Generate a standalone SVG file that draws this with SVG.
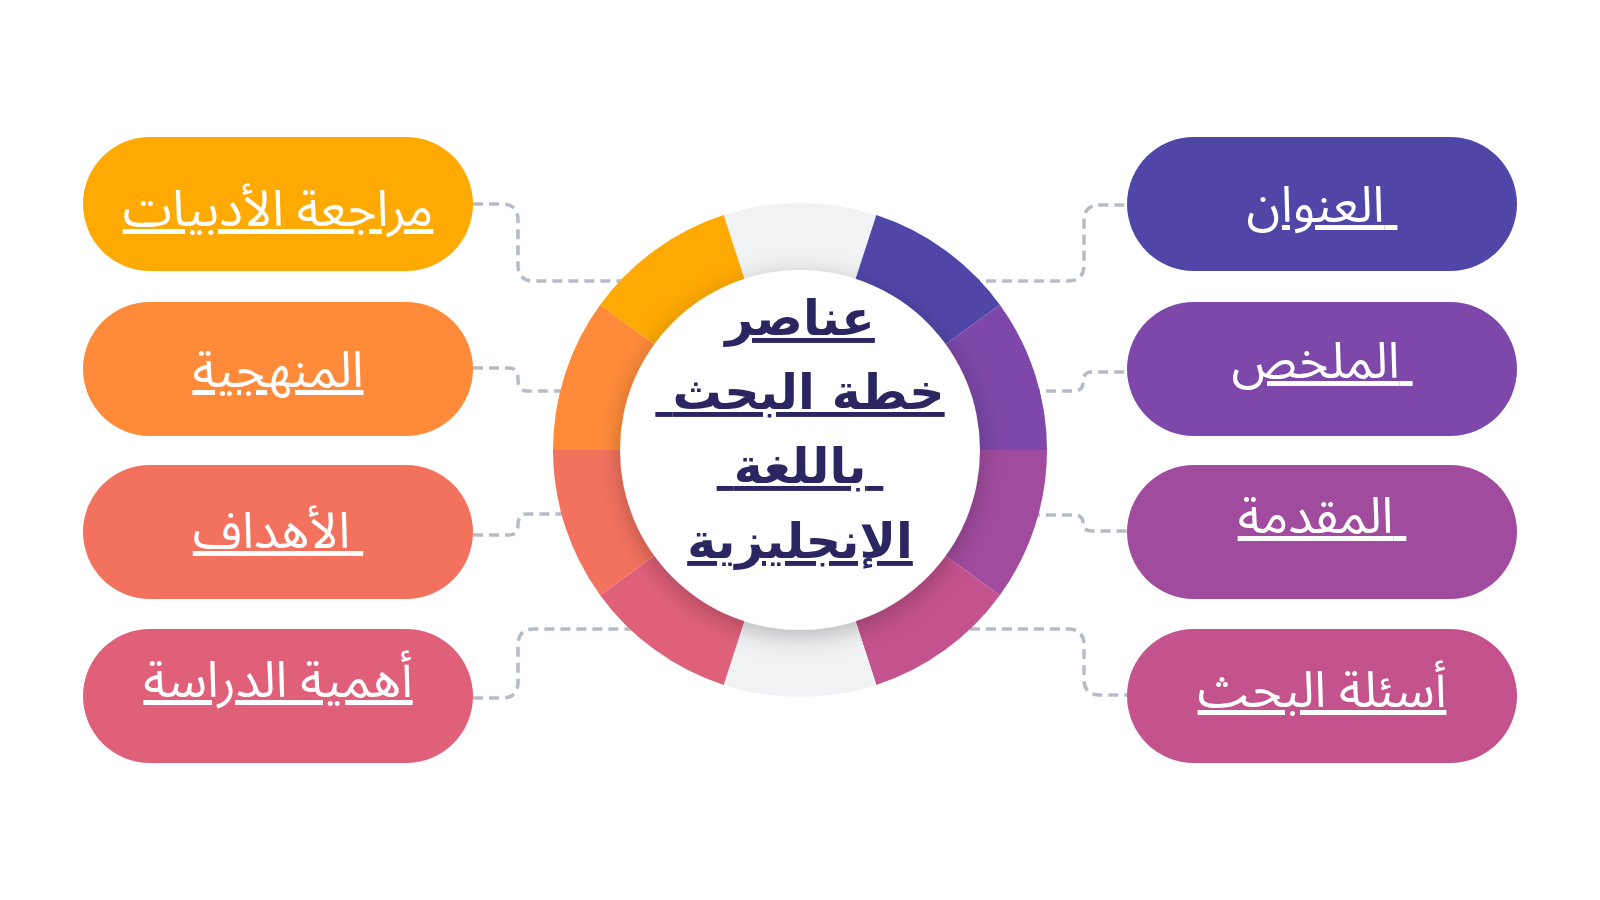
<svg xmlns="http://www.w3.org/2000/svg" width="1600" height="900" viewBox="0 0 1600 900">
<defs>
<style>
.conn{fill:none;stroke:#B5BCC8;stroke-width:3.5;stroke-dasharray:10 6}
.pill-t{font-family:"Noto Sans Arabic","DejaVu Sans",sans-serif;font-size:50px;fill:#FFFFFF;text-anchor:middle;text-decoration:underline;white-space:pre}
.center-t{font-family:"DejaVu Sans",sans-serif;font-size:49px;font-weight:bold;fill:#2B2661;text-anchor:middle;text-decoration:underline;white-space:pre}
</style>
<filter id="shadow" x="-30%" y="-30%" width="160%" height="160%">
<feDropShadow dx="0" dy="6" stdDeviation="12" flood-color="#000" flood-opacity="0.25"/>
</filter>
</defs>
<rect width="1600" height="900" fill="#FFFFFF"/>
<g id="connectors">
<path class="conn" d="M473,204 H502 Q518,204 518,220 V265 Q518,281 534,281 H630"/>
<path class="conn" d="M473,368 H509 Q518,368 518,379 Q518,391 527,391 H570"/>
<path class="conn" d="M473,535 H509 Q518,535 518,525 Q518,514 527,514 H570"/>
<path class="conn" d="M473,698 H502 Q518,698 518,682 V645 Q518,629 534,629 H640"/>
<path class="conn" d="M970,281 H1068 Q1084,281 1084,265 V221 Q1084,205 1100,205 H1127"/>
<path class="conn" d="M1030,391 H1074 Q1083,391 1083,382 Q1083,372 1092,372 H1127"/>
<path class="conn" d="M1030,515 H1074 Q1083,515 1083,523 Q1083,531 1092,531 H1127"/>
<path class="conn" d="M970,629 H1068 Q1084,629 1084,645 V679 Q1084,695 1100,695 H1127"/>
</g>
<g id="ring">
<path fill="#F1F2F4" d="M800,450 L723.67,215.09 A247,247 0 0 1 876.33,215.09 Z"/>
<path fill="#5046A8" d="M800,450 L876.33,215.09 A247,247 0 0 1 999.83,304.82 Z"/>
<path fill="#7D48A9" d="M800,450 L999.83,304.82 A247,247 0 0 1 1047,450 Z"/>
<path fill="#A14B9F" d="M800,450 L1047,450 A247,247 0 0 1 999.83,595.18 Z"/>
<path fill="#C4528D" d="M800,450 L999.83,595.18 A247,247 0 0 1 876.33,684.91 Z"/>
<path fill="#F1F2F4" d="M800,450 L876.33,684.91 A247,247 0 0 1 723.67,684.91 Z"/>
<path fill="#E0607A" d="M800,450 L723.67,684.91 A247,247 0 0 1 600.17,595.18 Z"/>
<path fill="#F3725E" d="M800,450 L600.17,595.18 A247,247 0 0 1 553,450 Z"/>
<path fill="#FF8B3A" d="M800,450 L553,450 A247,247 0 0 1 600.17,304.82 Z"/>
<path fill="#FFAA03" d="M800,450 L600.17,304.82 A247,247 0 0 1 723.67,215.09 Z"/>
</g>
<g id="center">
<circle cx="800" cy="450" r="180" fill="#FFFFFF" filter="url(#shadow)"/>
<text class="center-t" x="800" y="335"><tspan x="800" y="335">عناصر</tspan><tspan x="800" y="409"> خطة البحث</tspan><tspan x="800" y="483"> باللغة </tspan><tspan x="800" y="558">الإنجليزية</tspan></text>
</g>
<g id="node-literature">
<rect x="83" y="137" width="390" height="134" rx="67" fill="#FFAA03"/>
<text class="pill-t" x="278" y="226">مراجعة الأدبيات</text>
</g>
<g id="node-methodology">
<rect x="83" y="302" width="390" height="134" rx="67" fill="#FF8B3A"/>
<text class="pill-t" x="278" y="387">المنهجية</text>
</g>
<g id="node-objectives">
<rect x="83" y="465" width="390" height="134" rx="67" fill="#F3725E"/>
<text class="pill-t" x="278" y="548">الأهداف </text>
</g>
<g id="node-importance">
<rect x="83" y="629" width="390" height="134" rx="67" fill="#E0607A"/>
<text class="pill-t" x="278" y="697">أهمية الدراسة</text>
</g>
<g id="node-title">
<rect x="1127" y="137" width="390" height="134" rx="67" fill="#5046A8"/>
<text class="pill-t" x="1322" y="222">العنوان </text>
</g>
<g id="node-abstract">
<rect x="1127" y="302" width="390" height="134" rx="67" fill="#7D48A9"/>
<text class="pill-t" x="1322" y="378">الملخص </text>
</g>
<g id="node-introduction">
<rect x="1127" y="465" width="390" height="134" rx="67" fill="#A14B9F"/>
<text class="pill-t" x="1322" y="533">المقدمة </text>
</g>
<g id="node-questions">
<rect x="1127" y="629" width="390" height="134" rx="67" fill="#C4528D"/>
<text class="pill-t" x="1322" y="707">أسئلة البحث</text>
</g>
</svg>
